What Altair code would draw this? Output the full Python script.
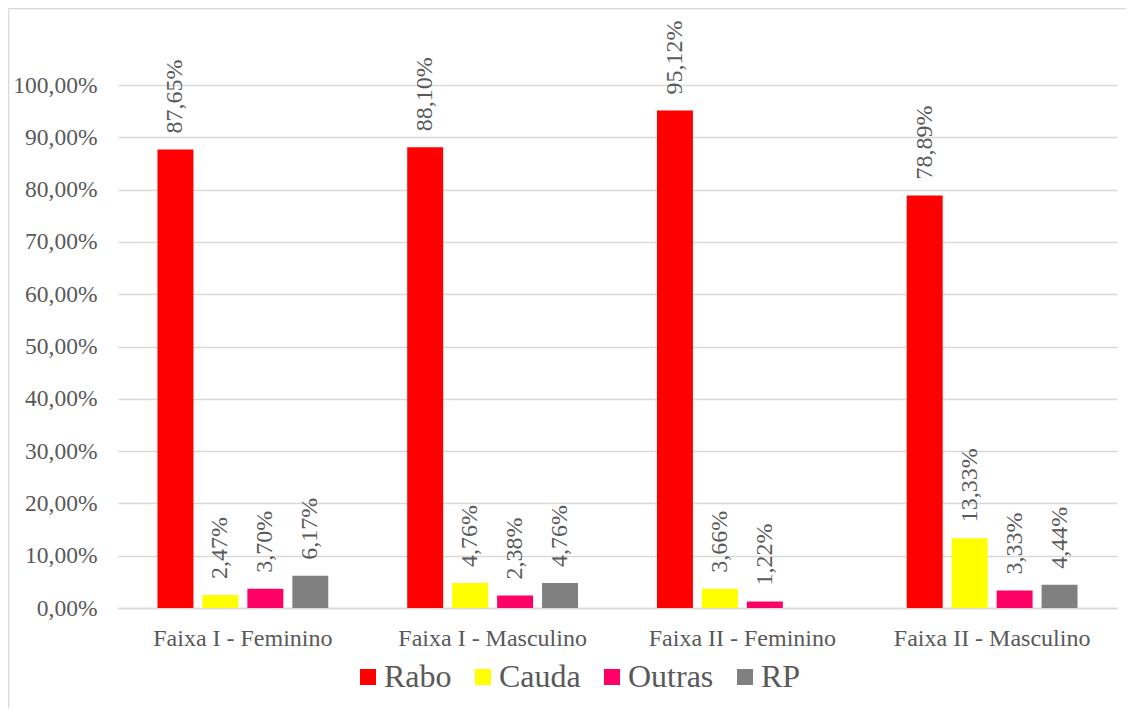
import altair as alt
import pandas as pd

categories = ["Faixa I - Feminino", "Faixa I - Masculino", "Faixa II - Feminino", "Faixa II - Masculino"]
series = ["Rabo", "Cauda", "Outras", "RP"]
rabo = [87.65, 88.10, 95.12, 78.89]
cauda = [2.47, 4.76, 3.66, 13.33]
outras = [3.70, 2.38, 1.22, 3.33]
rp = [6.17, 4.76, None, 4.44]
colors = ["#FF0000", "#FFFF00", "#FF0066", "#808080"]
y_ticks = [0, 10, 20, 30, 40, 50, 60, 70, 80, 90, 100]
title_text = "na Região Sudeste"

rows = []
for s, vals in zip(series, [rabo, cauda, outras, rp]):
    for c, v in zip(categories, vals):
        if v is not None:
            rows.append({"categoria": c, "serie": s, "valor": v})
df = pd.DataFrame(rows)

FONT = "'Liberation Serif', 'Times New Roman', Times, serif"
GRAY = "#595959"
W, H = 999, 523
PAD = {"left": 110, "top": 77, "right": 9, "bottom": 100}

x_enc = alt.X(
    "categoria:N", sort=categories,
    scale=alt.Scale(paddingInner=0, paddingOuter=0),
    axis=alt.Axis(title=None, labelAngle=0, labelFont=FONT, labelFontSize=24,
                  labelColor=GRAY, labelPadding=18, labelLimit=400, ticks=False, domain=True,
                  domainColor="#d9d9d9", domainWidth=1.5, grid=False),
)
xoff_enc = alt.XOffset("serie:N", sort=series,
                       scale=alt.Scale(domain=series, paddingInner=0.2, paddingOuter=0.878))
y_enc = alt.Y(
    "valor:Q",
    scale=alt.Scale(domain=[0, 100], nice=False),
    axis=alt.Axis(values=y_ticks, title=None, domain=False, ticks=False,
                  gridColor="#d9d9d9", gridWidth=1.5, labelFont=FONT, labelFontSize=23.5,
                  labelColor=GRAY, labelPadding=21,
                  labelExpr="replace(format(datum.value, '.2f'), '.', ',') + '%'"),
)

base = alt.Chart(df).transform_calculate(
    rotulo="replace(format(datum.valor, '.2f'), '.', ',') + '%'"
)

bars = base.mark_bar().encode(
    x=x_enc, xOffset=xoff_enc, y=y_enc,
    color=alt.Color("serie:N", sort=series,
                    scale=alt.Scale(domain=series, range=colors),
                    legend=alt.Legend(title=None, orient="none", legendX=234, legendY=576,
                                      direction="horizontal", symbolType="square",
                                      symbolSize=256, symbolStrokeWidth=0,
                                      labelFont=FONT, labelFontSize=32, labelColor=GRAY,
                                      labelOffset=0, columnPadding=15, labelLimit=300)),
)

labels = base.mark_text(angle=270, align="left", baseline="middle", dx=16,
                        font=FONT, fontSize=24, color=GRAY).encode(
    x=alt.X("categoria:N", sort=categories),
    xOffset=alt.XOffset("serie:N", sort=series),
    y="valor:Q",
    text="rotulo:N",
)

one = pd.DataFrame({"k": [0]})
frame_left = alt.Chart(one).mark_rule(color="#d9d9d9", strokeWidth=1.5).encode(
    x=alt.value(-109.5), y=alt.value(-76.5), y2=alt.value(H + PAD["bottom"]))
frame_top = alt.Chart(one).mark_rule(color="#d9d9d9", strokeWidth=1.5).encode(
    y=alt.value(-76.5), x=alt.value(-109.5), x2=alt.value(W + PAD["right"]))
title = alt.Chart(pd.DataFrame({"t": [title_text]})).mark_text(
    font=FONT, fontSize=32, color="#000000", baseline="alphabetic", align="center").encode(
    x=alt.value(462), y=alt.value(-84), text="t:N")

chart = alt.layer(frame_left, frame_top, title, bars, labels).properties(
    width=W, height=H, padding=PAD,
    autosize=alt.AutoSizeParams(type="none"),
).configure_view(stroke=None)

chart.save("out.html", embed_options={"renderer": "svg", "actions": False})
